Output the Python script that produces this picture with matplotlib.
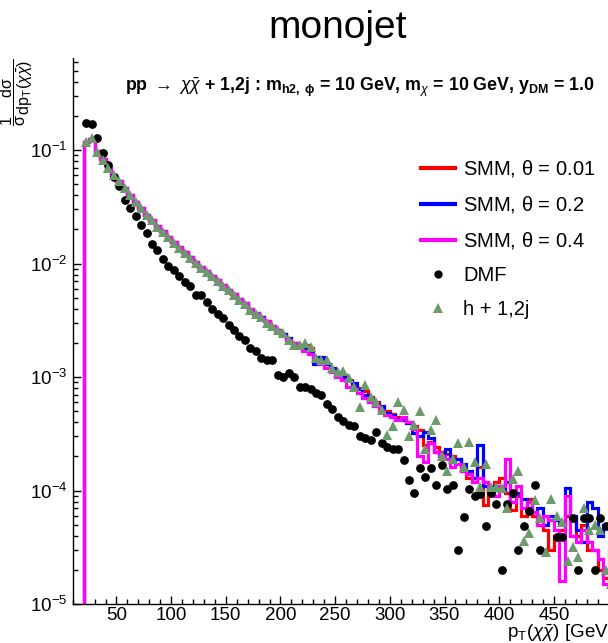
import numpy as np
import matplotlib
matplotlib.use("Agg")
import matplotlib.pyplot as plt
from matplotlib.lines import Line2D
from matplotlib.ticker import LogLocator, MultipleLocator, NullFormatter

plt.rcParams['font.family'] = ['Liberation Sans', 'DejaVu Sans']
plt.rcParams['mathtext.fontset'] = 'custom'
plt.rcParams['mathtext.rm'] = 'Liberation Sans'
plt.rcParams['mathtext.it'] = 'Liberation Sans:italic'
plt.rcParams['mathtext.bf'] = 'Liberation Sans:bold'

# ---------------- data ----------------
bin_lo = 20.0
bin_w = 5.0

smm_001 = [0.118, 0.125, 0.098, 0.083, 0.070, 0.060, 0.053, 0.046, 0.040, 0.035,
           0.031, 0.027, 0.024, 0.0215, 0.0192, 0.0172, 0.0155, 0.0140, 0.0126, 0.0114,
           0.0103, 0.0094, 0.0086, 0.0078, 0.0071, 0.0065, 0.0059, 0.0054, 0.0049, 0.0045,
           0.0040, 0.0036, 0.0034, 0.0031, 0.0028, 0.0026, 0.0024, 0.0021, 0.0020, 0.0019,
           0.0019, 0.0018, 0.0015, 0.0014, 0.0013, 0.0012, 0.0011, 0.00105, 0.00095, 0.00085,
           0.00080, 0.00075, 0.00066, 0.00060, 0.00054, 0.00050, 0.00047, 0.00044, 0.00043, 0.00040,
           0.00037, 0.00034, 0.00025, 0.00027, 0.00024, 0.00022, 0.00021, 0.00020, 0.00019, 0.00015,
           0.00013, 0.00012, 0.00016, 0.000075, 0.00011, 0.00012, 0.00013, 0.000095, 0.000068, 0.00009,
           0.00006, 0.000085, 0.00006, 0.00005, 0.000045, 0.00003, 0.00004, 0.000045, 0.00006, 0.000055,
           0.00004, 0.00005, 0.00003, 0.00003, 0.00002, 0.000017, 0.00003]

smm_02 = [0.118, 0.125, 0.098, 0.083, 0.070, 0.060, 0.053, 0.046, 0.040, 0.035,
          0.031, 0.027, 0.024, 0.0215, 0.0192, 0.0172, 0.0155, 0.0140, 0.0126, 0.0114,
          0.0103, 0.0094, 0.0086, 0.0078, 0.0071, 0.0065, 0.0059, 0.0054, 0.0049, 0.0045,
          0.0040, 0.0037, 0.0034, 0.0031, 0.0028, 0.0026, 0.0024, 0.0022, 0.0020, 0.0019,
          0.0018, 0.0017, 0.0013, 0.0015, 0.0013, 0.0012, 0.0011, 0.0010, 0.00092, 0.00088,
          0.00078, 0.00070, 0.00064, 0.00058, 0.00055, 0.00048, 0.00046, 0.00043, 0.00042, 0.00039,
          0.00032, 0.00030, 0.00033, 0.00029, 0.00022, 0.00020, 0.00023, 0.00018, 0.00019, 0.00017,
          0.00015, 0.00013, 0.00025, 0.00011, 0.00010, 0.00011, 0.00010, 0.00012, 0.00009, 0.000095,
          0.000085, 0.00007, 0.000065, 0.00007, 0.00005, 0.00006, 0.000055, 0.00005, 0.000105, 0.00006,
          0.000045, 0.000035, 0.00008, 0.00007, 0.00004, 0.00005, 0.000045]

smm_04 = [0.118, 0.125, 0.098, 0.083, 0.070, 0.060, 0.053, 0.046, 0.040, 0.035,
          0.031, 0.027, 0.024, 0.0215, 0.0192, 0.0172, 0.0155, 0.0140, 0.0126, 0.0114,
          0.0103, 0.0094, 0.0086, 0.0078, 0.0071, 0.0065, 0.0059, 0.0054, 0.0049, 0.0045,
          0.0040, 0.0037, 0.0033, 0.0031, 0.0028, 0.0026, 0.0023, 0.0021, 0.0020, 0.0018,
          0.0017, 0.0016, 0.0014, 0.0013, 0.0012, 0.0011, 0.0010, 0.00095, 0.00082, 0.00078,
          0.00072, 0.00065, 0.00060, 0.00055, 0.00050, 0.00046, 0.00044, 0.00042, 0.00044, 0.00040,
          0.00035, 0.00020, 0.00018, 0.00026, 0.00022, 0.00020, 0.00019, 0.00016, 0.00017, 0.00015,
          0.00014, 0.00012, 0.00013, 0.00012, 0.00010, 0.00009, 0.00011, 0.00019, 0.00008, 0.00011,
          0.00007, 0.00008, 0.000065, 0.00005, 0.00006, 0.000055, 0.000045, 0.000016, 0.00009, 0.00004,
          0.000035, 0.000045, 0.000035, 0.00003, 0.000025, 0.000015, 0.00002]

dmf = [0.174, 0.169, 0.127, 0.094, 0.074, 0.058, 0.048, 0.036, 0.031, 0.026,
       0.022, 0.0185, 0.0148, 0.0132, 0.011, 0.0095, 0.0088, 0.0077, 0.0069, 0.0063,
       0.0053, 0.0053, 0.0046, 0.0040, 0.0036, 0.0033, 0.0029, 0.0026, 0.0023, 0.0021,
       0.0018, 0.00168, 0.00146, 0.00142, 0.00142, 0.00105, 0.0010, 0.00108, 0.0010, 0.00082,
       0.00082, 0.00079, 0.00072, 0.00069, 0.00058, 0.00052, 0.00044, 0.00041, 0.00038, 0.00037,
       0.00030, 0.00029, 0.00028, 0.00033, 0.00026, 0.00024, 0.00023, 0.00023, 0.000187, 0.000124,
       0.000095, 0.000158, 0.000131, 0.000158, 0.000112, 0.000167, 0.000103, 0.000112, 0.00003, 0.000058,
       0.000103, 0.00009, 0.000093, 0.000049, 0.000095, 0.000076, 0.00002, 0.000076, 0.000095, 0.00003,
       0.000049, 0.000066, 0.000112, 0.00003, np.nan, np.nan, 0.000039, 0.000039, np.nan, 0.000057,
       0.00002, 0.000057, 0.000057, 0.00002, 0.000057, 0.000049, np.nan]

h12j = [0.118, 0.128, 0.097, 0.082, 0.069, 0.060, 0.053, 0.046, 0.040, 0.035,
        0.031, 0.027, 0.024, 0.021, 0.019, 0.017, 0.0153, 0.0138, 0.0125, 0.0112,
        0.0102, 0.0092, 0.0085, 0.0077, 0.0070, 0.0064, 0.0058, 0.0053, 0.0048, 0.0044,
        0.0039, 0.0036, 0.0034, 0.0030, 0.0028, 0.0026, 0.00245, 0.0021, 0.0019, 0.0019,
        0.0020, 0.00185, 0.00148, 0.0014, 0.00142, 0.0012, 0.0011, 0.00112, 0.00098, 0.00082,
        0.00054, 0.00085, 0.00067, 0.0006, 0.00051, 0.00031, 0.00037, 0.0006, 0.00051, 0.0003,
        0.00038, 0.0005, 0.00023, 0.00034, 0.00042, 0.0002, 0.00015, 0.00019, 0.00026, 0.00016,
        0.00027, 0.00018, 0.000107, 0.00017, 0.000107, 0.000107, 0.000105, 0.00007, 0.000127, 0.00015,
        0.000036, 0.000042, 0.000083, 0.000057, 0.000029, 0.000085, 0.00006, 0.000053, 0.000024, 0.000032,
        0.000026, 0.00007, 0.000045, 0.00005, 0.000045, 0.00002, 0.000015]

labels = [r'SMM, $\mathrm{\theta}$ = 0.01', r'SMM, $\mathrm{\theta}$ = 0.2',
          r'SMM, $\mathrm{\theta}$ = 0.4', 'DMF', 'h + 1,2j']
colors = ['#ff0000', '#0000ff', '#ff00ff', '#000000', '#6b9b6b']

n = len(smm_001)
edges = bin_lo + bin_w * np.arange(n + 1)
centers = 0.5 * (edges[:-1] + edges[1:])

# ---------------- figure ----------------
W, H = 608, 643
fig = plt.figure(figsize=(W / 100, H / 100), dpi=100)
ax = fig.add_axes([72.7 / W, 39 / H, (W - 72.7) / W, (604 - 58) / H])

lw = 2.3
for vals, c in zip([smm_001, smm_02, smm_04], colors[:3]):
    ax.stairs(vals, edges, baseline=1e-8, color=c, lw=lw, zorder=2)

ax.plot(centers, dmf, 'o', color=colors[3], ms=6.3, mew=0, ls='none', zorder=3)
ax.plot(centers, h12j, '^', color=colors[4], ms=7.5, mew=0, ls='none', zorder=4)

ax.set_yscale('log')
ax.set_xlim(10, 499.5)
ax.set_ylim(1e-5, 0.647)

for s in ['top', 'right']:
    ax.spines[s].set_visible(False)
ax.spines['left'].set_linewidth(1.0)
ax.spines['bottom'].set_linewidth(1.0)

ax.xaxis.set_major_locator(MultipleLocator(50))
ax.xaxis.set_minor_locator(MultipleLocator(10))
ax.yaxis.set_major_locator(LogLocator(base=10, numticks=20))
ax.yaxis.set_minor_locator(LogLocator(base=10, subs=np.arange(2, 10), numticks=20))
ax.yaxis.set_minor_formatter(NullFormatter())
ax.tick_params(which='both', direction='in', top=False, right=False, labelsize=13.5)
ax.tick_params(which='major', length=6, width=1)
ax.tick_params(which='minor', length=3.5, width=1)
ax.tick_params(axis='x', pad=2)
ax.tick_params(axis='y', pad=4)

# legend
handles = [Line2D([], [], color=colors[0], lw=3),
           Line2D([], [], color=colors[1], lw=3),
           Line2D([], [], color=colors[2], lw=3),
           Line2D([], [], marker='o', color=colors[3], ls='none', ms=6, mew=0),
           Line2D([], [], marker='^', color=colors[4], ls='none', ms=7.5, mew=0)]
leg = ax.legend(handles, labels, loc='upper left',
                bbox_to_anchor=((413 - 72.7) / (W - 72.7), (604 - 150) / (604 - 58)),
                frameon=False, fontsize=14.5, handlelength=1.7, handletextpad=0.4,
                labelspacing=0.75, borderaxespad=0)

# header
fig.text(125 / W, 1 - 87 / H,
         r'pp $\rightarrow$ $\chi\bar{\chi}$ + 1,2j : m$_{\mathbf{h2,\ \phi}}$ = 10 GeV, m$_{\chi}$ = 10 GeV, y$_{\mathbf{DM}}$ = 1.0',
         fontsize=12.8, fontweight='bold', ha='left', va='center')

# title
fig.text(338 / W, 1 - 28 / H, 'monojet', fontsize=28, ha='center', va='center')

# y label
fig.text(17 / W, 1 - 92 / H,
         r'$\dfrac{1}{\mathrm{\sigma}}\dfrac{\mathrm{d\sigma}}{\mathrm{dp_{T}}(\chi\bar{\chi})}$',
         rotation=90, fontsize=11.5, ha='center', va='center')

# x label
fig.text(613 / W, 1 - 633 / H, r'p$_{\mathrm{T}}$($\chi\bar{\chi}$) [GeV]', fontsize=13.5, ha='right', va='center')

fig.savefig('out.png', dpi=100)
